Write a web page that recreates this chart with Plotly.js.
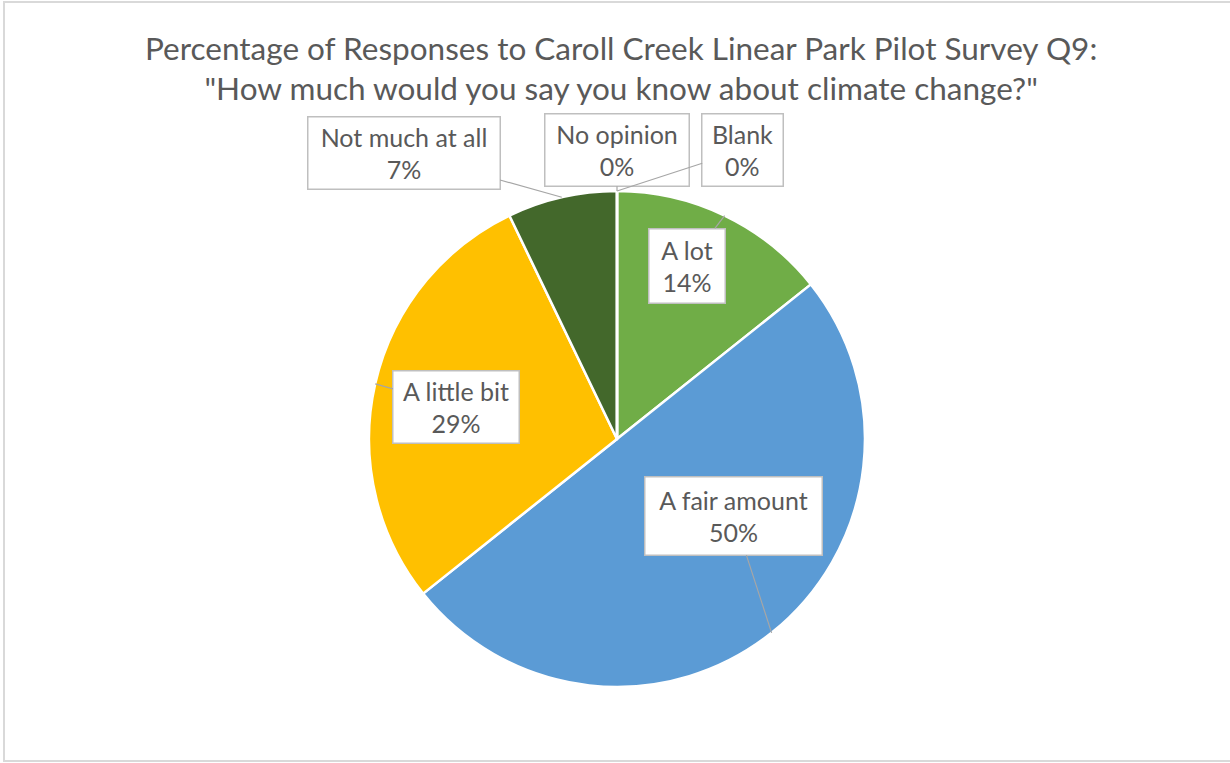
<!DOCTYPE html>
<html>
<head>
<meta charset="utf-8">
<script src="https://cdn.plot.ly/plotly-3.0.1.min.js"></script>
<style>html,body{margin:0;padding:0;background:#fff;}#chart{width:1230px;height:763px;}</style>
</head>
<body>
<div id="chart"></div>
<script>
// Data
const categories = ["A lot", "A fair amount", "A little bit", "Not much at all", "No opinion", "Blank"];
const counts = [2, 7, 4, 1, 0, 0];
const colors = ["#70AD47", "#5B9BD5", "#FFC000", "#43682B", "#A5A5A5", "#264478"];
const titleLines = ["Percentage of Responses to Caroll Creek Linear Park Pilot Survey Q9:", "\"How much would you say you know about climate change?\""];

// Style: label box offsets (px, box centre relative to slice edge anchor) and box sizes
const boxOffsets = [[-38, 50], [-38, -117], [81, 23], [-158, -44], [0, -41], [126, -41]];
const boxSizes = [[75, 73], [176, 77], [125, 71], [191, 71], [143, 71], [80, 71]];

const W = 1230, H = 763;
const cx = 617, cy = 439, R = 248;
const dom = {x: [(cx - R) / W, (cx + R) / W], y: [1 - (cy + R) / H, 1 - (cy - R) / H]};

const total = counts.reduce((a, b) => a + b, 0);
let cum = 0;
const annotations = [];
categories.forEach((c, i) => {
  const frac = counts[i] / total;
  const mid = (cum + frac / 2) * 2 * Math.PI;
  cum += frac;
  const px = cx + R * Math.sin(mid);
  const py = cy - R * Math.cos(mid);
  annotations.push({
    xref: 'paper', yref: 'paper',
    x: px / W, y: 1 - py / H,
    text: c + '<br>' + Math.round(frac * 100) + '%',
    showarrow: true, arrowhead: 0, arrowwidth: 1.2, arrowcolor: '#a6a6a6',
    ax: boxOffsets[i][0], ay: boxOffsets[i][1],
    width: boxSizes[i][0], height: boxSizes[i][1],
    bgcolor: '#ffffff', bordercolor: '#bfbfbf', borderwidth: 1.5, borderpad: 0,
    font: {family: 'Lato, sans-serif', size: 25, color: '#595959'},
    align: 'center', valign: 'middle'
  });
});

const data = [{
  type: 'pie',
  labels: categories,
  values: counts,
  sort: false,
  direction: 'clockwise',
  rotation: 0,
  marker: {colors: colors, line: {color: '#ffffff', width: 2.5}},
  textinfo: 'none',
  hoverinfo: 'label+percent',
  domain: dom,
  showlegend: false
}];

const layout = {
  width: W, height: H,
  margin: {l: 0, r: 0, t: 0, b: 0},
  paper_bgcolor: '#ffffff',
  showlegend: false,
  title: {
    text: titleLines.join('<br>'),
    x: 0.505, xanchor: 'center', y: 0.922, yanchor: 'top',
    font: {family: 'Lato, sans-serif', size: 31.5, color: '#595959'}
  },
  annotations: annotations,
  shapes: [{type: 'rect', xref: 'paper', yref: 'paper', x0: 4 / W, x1: 1.01, y0: 1 - 761 / H, y1: 1 - 2 / H,
            line: {color: '#d9d9d9', width: 2}, fillcolor: 'rgba(0,0,0,0)'}]
};

Plotly.newPlot('chart', data, layout, {displayModeBar: false, staticPlot: true});
</script>
</body>
</html>
